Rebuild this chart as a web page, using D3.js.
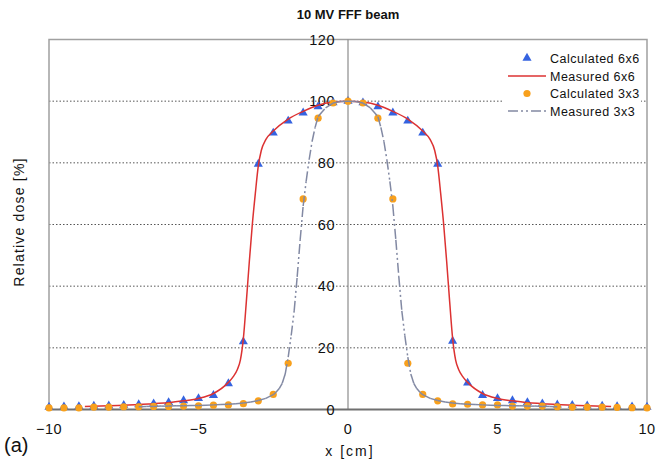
<!DOCTYPE html>
<html>
<head>
<meta charset="utf-8">
<script src="https://cdn.jsdelivr.net/npm/d3@7"></script>
<style>
  html, body { margin: 0; padding: 0; background: #fff; }
  svg text { font-family: "Liberation Sans", Arial, sans-serif; fill: #111; }
</style>
</head>
<body>
<svg id="chart" width="667" height="464"></svg>
<script>
// Beam profile positions sampled by the calculation (cm)
const calcX = [-10,-9.5,-9,-8.5,-8,-7.5,-7,-6.5,-6,-5.5,-5,-4.5,-4,-3.5,-3,-2.5,-2,-1.5,-1,-0.5,
               0,0.5,1,1.5,2,2.5,3,3.5,4,4.5,5,5.5,6,6.5,7,7.5,8,8.5,9,9.5,10];

// Calculated 6x6 field (relative dose, %)
const calc6 = [0.8,0.9,1.0,1.1,1.2,1.4,1.6,1.9,2.3,2.9,3.6,4.6,8.4,22,79.6,89.7,93.6,96.2,98.2,99.5,
               100,99.5,98.2,96.2,93.6,89.7,79.6,22.2,8.6,4.6,3.6,2.9,2.3,1.9,1.5,1.4,1.2,1.1,1.0,0.9,0.8];

// Calculated 3x3 field (relative dose, %)
const calc3 = [0.5,0.5,0.5,0.8,0.8,0.9,0.9,1.0,1.0,1.1,1.2,1.4,1.5,1.9,2.8,4.9,15,68.3,94.5,99.4,
               100,99.4,94.5,68.3,15,4.9,2.8,1.8,1.7,1.5,1.5,1.1,1.1,1.1,0.9,0.8,0.8,0.75,0.7,0.6,0.5];

// Measured 6x6 profile
const meas6X = [-8.8,-8,-7.5,-7,-6.5,-6,-5.5,-5,-4.5,-4,-3.85,-3.7,-3.6,-3.5,-3.4,-3.3,-3.2,-3.1,-3,-2.9,
                -2.75,-2.5,-2,-1.5,-1,-0.5,0,0.5,1,1.5,2,2.5,2.75,2.9,3,3.1,3.2,3.3,3.4,3.5,
                3.6,3.7,3.85,4,4.5,5,5.5,6,6.5,7,7.5,8,8.8];
const meas6Y = [1.0,1.2,1.4,1.6,1.9,2.2,2.8,3.6,5.2,8.8,10.5,13,16,23,35,48,60,70,79,84,
                87.5,90.3,94.2,96.7,98.7,99.7,100,99.7,98.7,96.7,94.2,90.3,87.5,84,79,70,60,48,35,23,
                16,13,10.5,8.8,5.2,3.6,2.8,2.2,1.9,1.6,1.4,1.2,1.0];

// Measured 3x3 profile
const meas3X = [-7,-6.75,-6.5,-6.25,-6,-5.75,-5.5,-5.25,-5,-4.75,-4.5,-4.25,-4,-3.75,-3.5,-3.25,-3,-2.75,-2.5,
                -2.4,-2.3,-2.2,-2.1,-2,-1.9,-1.8,-1.7,-1.6,-1.5,-1.4,-1.3,-1.2,-1.1,-1,-0.75,-0.5,-0.25,
                0,
                0.25,0.5,0.75,1,1.1,1.2,1.3,1.4,1.5,1.6,1.7,1.8,1.9,2,2.1,2.2,2.3,2.4,
                2.5,2.75,3,3.25,3.5,3.75,4,4.25,4.5,4.75,5,5.25,5.5,5.75,6,6.25,6.5,6.75,7];
const meas3Y = [0.9,1.0,1.0,1.1,1.1,1.2,1.2,1.3,1.3,1.4,1.5,1.6,1.7,1.9,2.1,2.4,2.9,3.6,4.8,
                5.7,6.8,8.5,11.5,17,24,32,43,55,66,74,81,87,91.5,95,97.8,99.4,99.9,
                100,
                99.9,99.4,97.8,95,91.5,87,81,74,66,55,43,32,24,17,11.5,8.5,6.8,5.7,
                4.8,3.6,2.9,2.4,2.1,1.9,1.7,1.6,1.5,1.4,1.3,1.3,1.2,1.2,1.1,1.1,1.0,1.0,0.9];

const xTicks = [-10, -5, 0, 5, 10];
const yTicks = [0, 20, 40, 60, 80, 100, 120];
const gridTicks = [20, 40, 60, 80, 100];

const seriesNames = ["Calculated 6x6", "Measured 6x6", "Calculated 3x3", "Measured 3x3"];

const BLUE = "#3563e0", RED = "#dc3232", ORANGE = "#f8a01c", SLATE = "#8289a3";
const DASH3 = "10,3,2,3,2,3";

const svg = d3.select("#chart");
const x = d3.scaleLinear().domain([-10, 10]).range([49, 647]);
const y = d3.scaleLinear().domain([0, 120]).range([409.5, 39.5]);

// Title
svg.append("text").attr("x", 348).attr("y", 19).attr("text-anchor", "middle")
  .style("font-family", "'Liberation Sans Narrow', 'Arial Narrow', 'Liberation Sans', sans-serif")
  .style("font-size", "13px").style("font-weight", "600").text("10 MV FFF beam");

// Dotted gridlines
svg.append("g").selectAll("line").data(gridTicks).join("line")
  .attr("x1", x(-10)).attr("x2", x(10))
  .attr("y1", d => y(d)).attr("y2", d => y(d))
  .attr("stroke", "#555").attr("stroke-width", 1).attr("stroke-dasharray", "1.5,2");

// Plot frame (top, left, right)
const frame = svg.append("g").attr("stroke", "#a0a0a0").attr("stroke-width", 1.5).attr("fill", "none");
frame.append("path").attr("d", `M${x(-10)},${y(0)}V${y(120)}H${x(10)}V${y(0)}`);

// Vertical axis through x = 0
svg.append("line").attr("x1", x(0)).attr("x2", x(0)).attr("y1", y(120)).attr("y2", y(0))
  .attr("stroke", "#8c8c8c").attr("stroke-width", 1.2);

// Horizontal axis at 0 %
svg.append("line").attr("x1", x(-10)).attr("x2", x(10)).attr("y1", y(0)).attr("y2", y(0))
  .attr("stroke", "#707070").attr("stroke-width", 2);

// Y tick labels next to the centre axis
svg.append("g").selectAll("text").data(yTicks).join("text")
  .attr("x", x(0) - 13).attr("y", d => y(d) + 5).attr("text-anchor", "end")
  .style("font-size", "14.5px").style("letter-spacing", "0.5px").text(d => d);

// X tick labels
svg.append("g").selectAll("text").data(xTicks).join("text")
  .attr("x", d => x(d)).attr("y", 434).attr("text-anchor", "middle")
  .style("font-size", "14.5px").style("letter-spacing", "0.5px")
  .text(d => d < 0 ? "\u2212" + Math.abs(d) : d);

// Axis titles
svg.append("text").attr("x", 350).attr("y", 456).attr("text-anchor", "middle")
  .style("font-size", "14px").style("letter-spacing", "2px").text("x [cm]");
svg.append("text").attr("transform", "translate(24,222) rotate(-90)").attr("text-anchor", "middle")
  .style("font-size", "14px").style("letter-spacing", "1.2px").text("Relative dose [%]");
svg.append("text").attr("x", 4).attr("y", 452).style("font-size", "20px").text("(a)");

// Calculated 6x6 triangles
const tri = d3.symbol().type(d3.symbolTriangle).size(36);
svg.append("g").selectAll("path").data(calcX.map((v, i) => [v, calc6[i]])).join("path")
  .attr("transform", d => `translate(${x(d[0])},${y(d[1])})`)
  .attr("d", tri).attr("fill", BLUE);

// Measured 6x6 line
const smooth = d3.line().x(d => x(d[0])).y(d => y(d[1])).curve(d3.curveMonotoneX);
svg.append("path").datum(meas6X.map((v, i) => [v, meas6Y[i]]))
  .attr("d", smooth).attr("fill", "none").attr("stroke", RED).attr("stroke-width", 1.5);

// Calculated 3x3 dots
svg.append("g").selectAll("circle").data(calcX.map((v, i) => [v, calc3[i]])).join("circle")
  .attr("cx", d => x(d[0])).attr("cy", d => y(d[1])).attr("r", 3.6).attr("fill", ORANGE);

// Measured 3x3 line, dash pattern restarted on every segment
const m3 = meas3X.map((v, i) => [v, meas3Y[i]]);
svg.append("g").selectAll("line").data(d3.pairs(m3)).join("line")
  .attr("x1", d => x(d[0][0])).attr("y1", d => y(d[0][1]))
  .attr("x2", d => x(d[1][0])).attr("y2", d => y(d[1][1]))
  .attr("stroke", SLATE).attr("stroke-width", 1.5).attr("stroke-dasharray", DASH3);

// Legend
const lg = svg.append("g");
lg.append("rect").attr("x", 503).attr("y", 46).attr("width", 138).attr("height", 74).attr("fill", "#fff");
const rowY = [58, 76, 93.5, 111];
lg.selectAll("text").data(seriesNames).join("text")
  .attr("x", 550).attr("y", (d, i) => rowY[i] + 4.5)
  .style("font-size", "12.5px").style("letter-spacing", "0.5px").text(d => d);
lg.append("path").attr("transform", `translate(527,${rowY[0]})`).attr("d", tri).attr("fill", BLUE);
lg.append("line").attr("x1", 508).attr("x2", 546).attr("y1", rowY[1]).attr("y2", rowY[1])
  .attr("stroke", RED).attr("stroke-width", 1.5);
lg.append("circle").attr("cx", 527).attr("cy", rowY[2]).attr("r", 3.6).attr("fill", ORANGE);
lg.append("line").attr("x1", 508).attr("x2", 546).attr("y1", rowY[3]).attr("y2", rowY[3])
  .attr("stroke", SLATE).attr("stroke-width", 1.5).attr("stroke-dasharray", DASH3);
</script>
</body>
</html>
